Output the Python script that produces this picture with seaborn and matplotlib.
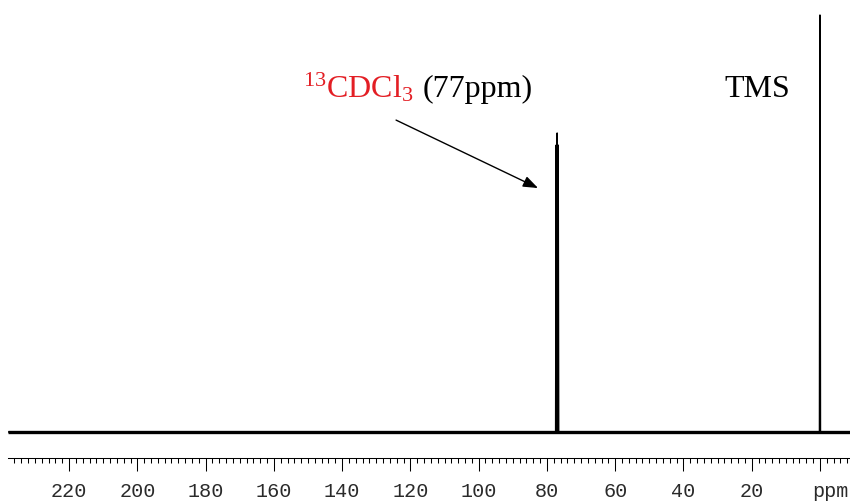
import matplotlib
matplotlib.use("Agg")
import matplotlib.pyplot as plt
import matplotlib.transforms as mtransforms
import numpy as np
import pandas as pd
import seaborn as sns

# 13C NMR stick spectrum: chemical shift (ppm) and relative intensity
shift_ppm = [237.9, 77.45, 77.3, 77.15, 77.0, 76.85, 76.7, 76.55, 0.15, 0.0, -0.15, -8.8]
intensity = [0.0, 0.0, 68.8, 0.0, 71.7, 0.0, 68.8, 0.0, 0.0, 100.0, 0.0, 0.0]

# axis ticks
major_ticks = [220, 200, 180, 160, 140, 120, 100, 80, 60, 40, 20, 0]
major_labels = ["220", "200", "180", "160", "140", "120", "100", "80", "60", "40", "20", "ppm"]
minor_step = 2

# annotations
solvent_label = r"$\mathrm{^{13}CDCl_3}$"
solvent_note = "(77ppm)"
ref_label = "TMS"

sns.set_theme(style="white")
plt.rcParams["mathtext.fontset"] = "custom"
plt.rcParams["mathtext.rm"] = "Liberation Serif"
plt.rcParams["mathtext.it"] = "Liberation Serif:italic"

fig = plt.figure(figsize=(8.5, 5.03), dpi=100)
ax = fig.add_axes([8 / 850, 45 / 503, 842 / 850, 458 / 503])

spec = pd.DataFrame({"ppm": shift_ppm, "I": intensity})

# baseline band under the spectrum trace
ax.plot([shift_ppm[0], shift_ppm[-1]], [0, 0], color="black", lw=2.4,
        solid_capstyle="butt", zorder=2)
sns.lineplot(data=spec, x="ppm", y="I", sort=False, estimator=None,
             color="black", lw=1.05, ax=ax, zorder=3)

ax.set_xlim(237.9, -8.8)
ax.set_ylim(-6.24, 103.6)
ax.set_xlabel("")
ax.set_ylabel("")
ax.set_yticks([])

for side in ["left", "right", "top"]:
    ax.spines[side].set_visible(False)
ax.spines["bottom"].set_color("black")
ax.spines["bottom"].set_linewidth(0.75)

ax.set_xticks(major_ticks)
ax.set_xticklabels(major_labels, family="Liberation Mono", fontsize=14.5, color="#2a2a2a")
ax.set_xticks(np.arange(-8, 238, minor_step), minor=True)
ax.tick_params(axis="x", which="major", direction="out", length=9.5, width=0.75,
               color="black", pad=8, bottom=True)
ax.tick_params(axis="x", which="minor", direction="out", length=3.8, width=0.75,
               color="black", bottom=True)

# shift the unit label slightly right of its tick
ppm_lbl = ax.get_xticklabels()[-1]
ppm_lbl.set_transform(ppm_lbl.get_transform() +
                      mtransforms.ScaledTranslation(10 / 100, 0, fig.dpi_scale_trans))

serif = "Liberation Serif"
ax.text(151.4, 80.3, solvent_label, color="#e31e24", fontsize=23, family=serif,
        ha="left", va="baseline")
ax.text(116.3, 80.3, solvent_note, color="black", fontsize=23, family=serif,
        ha="left", va="baseline")
ax.text(18.3, 80.3, ref_label, color="black", fontsize=23, family=serif,
        ha="center", va="baseline")

ax.annotate("", xy=(82.6, 58.5), xytext=(124.2, 74.8),
            arrowprops=dict(arrowstyle="-|>,head_length=0.75,head_width=0.28",
                            color="black", lw=1.0, shrinkA=0, shrinkB=0))

fig.savefig("out.png", dpi=100)
